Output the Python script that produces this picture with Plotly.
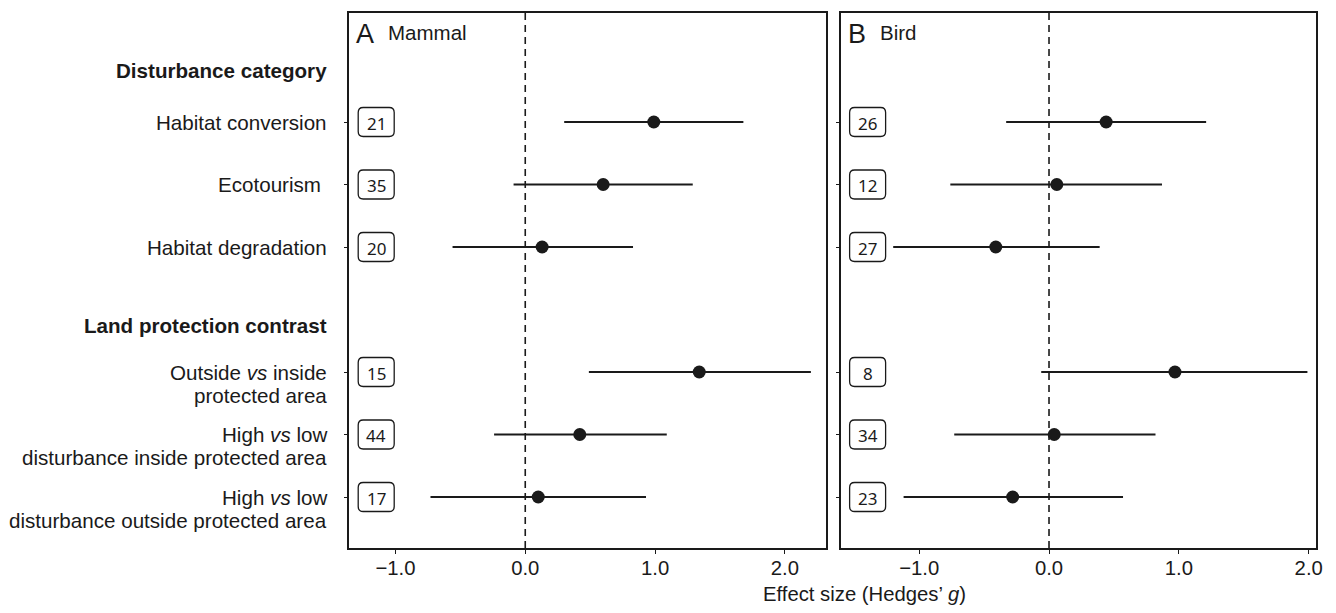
import plotly.graph_objects as go

# ---------------- data ----------------
row_labels = [
    "Habitat conversion",
    "Ecotourism ",
    "Habitat degradation",
    "Outside <i>vs</i> inside<br>protected area",
    "High <i>vs</i> low<br>disturbance inside protected area",
    "High <i>vs</i> low<br>disturbance outside protected area",
]
row_slot = [1, 2, 3, 5, 6, 7]
headers = ["Disturbance category", "Land protection contrast"]
header_slot = [0.18, 4.26]

mammal_g = [0.99, 0.60, 0.13, 1.34, 0.42, 0.10]
mammal_lo = [0.30, -0.09, -0.56, 0.49, -0.24, -0.73]
mammal_hi = [1.68, 1.29, 0.83, 2.20, 1.09, 0.93]
mammal_n = [21, 35, 20, 15, 44, 17]

bird_g = [0.44, 0.06, -0.41, 0.97, 0.04, -0.28]
bird_lo = [-0.33, -0.76, -1.20, -0.06, -0.73, -1.12]
bird_hi = [1.21, 0.87, 0.39, 1.99, 0.82, 0.57]
bird_n = [26, 12, 27, 8, 34, 23]

x_ticks = [-1.0, 0.0, 1.0, 2.0]
x_ticktext = ["\u22121.0", "0.0", "1.0", "2.0"]

# ---------------- figure ----------------
FONT = "Liberation Sans, Arial, sans-serif"
INK = "#1a1a1a"
W, H = 1336, 613
DX = -4  # compensate page offset
fig = go.Figure()

xr_m = [-1.356, 2.314]
xr_b = [-1.605, 2.057]
yr = [7.816, -0.744]

panels = [
    ("x", "y", mammal_g, mammal_lo, mammal_hi, mammal_n, xr_m, "A", "Mammal"),
    ("x2", "y2", bird_g, bird_lo, bird_hi, bird_n, xr_b, "B", "Bird"),
]

shapes = []
annotations = []
for xa, ya, g, lo, hi, n, xr, letter, name in panels:
    fig.add_trace(go.Scatter(
        x=g, y=row_slot, xaxis=xa, yaxis=ya, mode="markers",
        marker=dict(size=13, color=INK),
        error_x=dict(type="data", symmetric=False,
                     array=[h - v for h, v in zip(hi, g)],
                     arrayminus=[v - l for v, l in zip(g, lo)],
                     width=0, thickness=1.8, color=INK),
        showlegend=False, hoverinfo="skip",
    ))
    # dashed zero line
    shapes.append(dict(type="line", xref=xa, yref=ya + " domain", x0=0, x1=0, y0=0, y1=1,
                       line=dict(color=INK, width=1.6, dash="7px,5px"), layer="below"))
    # rounded count boxes
    for s, cnt in zip(row_slot, n):
        x0p, x1p, hh, r = 9, 45, 14.5, 5
        path = (f"M {x0p+r},{-hh} L {x1p-r},{-hh} Q {x1p},{-hh} {x1p},{-hh+r} "
                f"L {x1p},{hh-r} Q {x1p},{hh} {x1p-r},{hh} L {x0p+r},{hh} "
                f"Q {x0p},{hh} {x0p},{hh-r} L {x0p},{-hh+r} Q {x0p},{-hh} {x0p+r},{-hh} Z")
        shapes.append(dict(type="path", xref=xa, yref=ya, xsizemode="pixel", ysizemode="pixel",
                           xanchor=xr[0], yanchor=s, path=path,
                           line=dict(color=INK, width=1.3), fillcolor="white"))
        annotations.append(dict(x=xr[0], y=s, xref=xa, yref=ya, text=str(cnt), showarrow=False,
                                xanchor="center", yanchor="middle", xshift=27, yshift=-1,
                                font=dict(family="Noto Sans, Open Sans, sans-serif", size=17, color=INK)))
    # panel titles
    annotations.append(dict(x=0, y=1, xref=xa + " domain", yref=ya + " domain", text=letter,
                            showarrow=False, xanchor="left", yanchor="middle", xshift=5, yshift=-21,
                            font=dict(family=FONT, size=27, color=INK)))
    annotations.append(dict(x=0, y=1, xref=xa + " domain", yref=ya + " domain", text=name,
                            showarrow=False, xanchor="left", yanchor="middle", xshift=37, yshift=-19,
                            font=dict(family=FONT, size=20.5, color=INK)))

# row labels (left side)
LBL_X = (327 + DX) / W
for s, lab in zip(row_slot, row_labels):
    lines = lab.split("<br>")
    for k, line in enumerate(lines):
        annotations.append(dict(x=LBL_X, y=s, xref="paper", yref="y", text=line, showarrow=False,
                                xanchor="right", yanchor="middle", yshift=-23 * k,
                                font=dict(family=FONT, size=20.6, color=INK)))
for s, hd in zip(header_slot, headers):
    annotations.append(dict(x=LBL_X, y=s, xref="paper", yref="y", text=f"<b>{hd}</b>",
                            showarrow=False, xanchor="right", yanchor="middle",
                            font=dict(family=FONT, size=20.6, color=INK)))

# shared x title
annotations.append(dict(x=(865 + DX) / W, y=-0.086, xref="paper", yref="paper",
                        text="Effect size (Hedges\u2019 <i>g</i>)", showarrow=False,
                        xanchor="center", yanchor="middle",
                        font=dict(family=FONT, size=20.3, color=INK)))

axis_common = dict(showline=True, linecolor=INK, linewidth=1.6, mirror=True,
                   showgrid=False, zeroline=False)
xcommon = dict(axis_common, tickvals=x_ticks, ticktext=x_ticktext, ticks="outside",
               ticklen=4, tickwidth=1.3, tickcolor=INK, ticklabelstandoff=-3,
               tickfont=dict(family=FONT, size=20.3, color=INK))
ycommon = dict(axis_common, range=yr, tickvals=row_slot, ticks="outside", ticklen=3,
               tickwidth=1.3, tickcolor=INK, showticklabels=False)

fig.update_layout(
    width=W, height=H,
    margin=dict(l=0, r=0, t=5, b=73),
    paper_bgcolor="white", plot_bgcolor="white",
    xaxis=dict(xcommon, domain=[(347 + DX) / W, (826 + DX) / W], range=xr_m, anchor="y"),
    xaxis2=dict(xcommon, domain=[(841 + DX) / W, (1319 + DX) / W], range=xr_b, anchor="y2"),
    yaxis=dict(ycommon, domain=[0, 1], anchor="x"),
    yaxis2=dict(ycommon, domain=[0, 1], anchor="x2"),
    shapes=shapes,
    annotations=annotations,
)

fig.write_html("out.html")
